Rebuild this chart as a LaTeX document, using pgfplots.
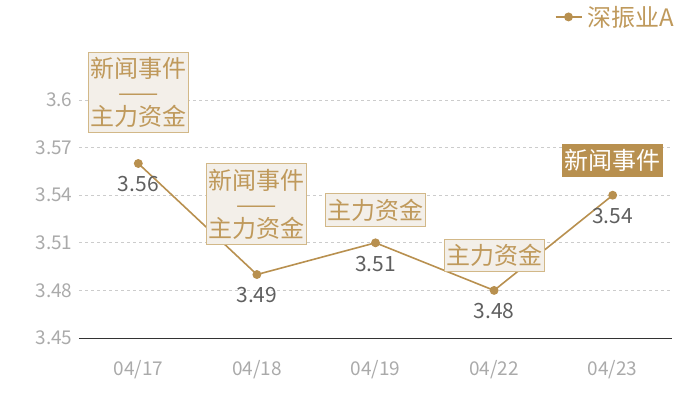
\documentclass[border=0pt]{standalone}
\usepackage{fontspec}
\setmainfont{Noto Sans CJK SC}
\usepackage{pgfplots}
\pgfplotsset{compat=1.18}

\definecolor{gold}{HTML}{B8904F}
\definecolor{goldtxt}{HTML}{BF995B}
\definecolor{boxfill}{HTML}{F3EFE9}
\definecolor{boxline}{HTML}{D2B888}
\definecolor{tickgray}{HTML}{AAAAAA}
\definecolor{valgray}{HTML}{5F5F5F}
\definecolor{gridgray}{HTML}{CCCCCC}

\begin{document}
\begin{tikzpicture}
\useasboundingbox (-79pt,-62pt) rectangle (621pt,338pt);
\begin{axis}[
  at={(0,0)}, anchor=south west,
  scale only axis,
  width=593pt, height=238pt,
  xmin=-0.5, xmax=4.5,
  ymin=3.45, ymax=3.6,
  xtick={0,1,2,3,4},
  xticklabels={04/17,04/18,04/19,04/22,04/23},
  ytick={3.45,3.48,3.51,3.54,3.57,3.6},
  yticklabels={3.45,3.48,3.51,3.54,3.57,3.6},
  major tick length=0pt,
  axis x line*=bottom,
  axis y line*=left,
  x axis line style={draw=black!80,-},
  y axis line style={draw=none},
  ymajorgrids=true,
  grid style={gridgray, dash pattern=on 3pt off 3pt, line width=0.8pt},
  ticklabel style={tickgray, font=\fontsize{19}{19}\selectfont},
  xticklabel style={yshift=-19pt},
  yticklabel style={xshift=-3pt},
  legend style={draw=none, fill=none, inner sep=0pt, at={(1.012,1.349)}, anchor=east,
    font=\fontsize{24}{24}\selectfont, text=goldtxt,
    nodes={inner xsep=5pt}},
  legend image code/.code={\draw[mark repeat=2,mark phase=2,#1] plot coordinates {(0pt,0pt) (13pt,0pt) (26pt,0pt)};},
  nodes near coords,
  nodes near coords align={below},
  every node near coord/.append style={valgray, font=\fontsize{21}{21}\selectfont, yshift=-9pt,
    /pgf/number format/fixed, /pgf/number format/precision=2, /pgf/number format/fixed zerofill,
    /pgf/number format/assume math mode=true},
  clip=false,
]
\addplot[gold, line width=1.6pt, mark=*, mark size=3.6pt, mark options={fill=gold, draw=gold}]
  coordinates {(0,3.56) (1,3.49) (2,3.51) (3,3.48) (4,3.54)};
\addlegendentry{深振业A}

\tikzset{ann/.style={draw=boxline, line width=1pt, fill=boxfill, text=goldtxt, align=center,
  inner xsep=2pt, inner ysep=5pt, anchor=south, font=\fontsize{24}{24}\selectfont}}
\node[ann, yshift=30pt] at (axis cs:0,3.56) {新闻事件\\——\\主力资金};
\node[ann, yshift=30pt] at (axis cs:1,3.49) {新闻事件\\——\\主力资金};
\node[ann, yshift=16pt] at (axis cs:2,3.51) {主力资金};
\node[ann, yshift=18pt] at (axis cs:3,3.48) {主力资金};
\node[ann, yshift=18pt, fill=gold, draw=gold, text=white] at (axis cs:4,3.54) {新闻事件};
\end{axis}
\end{tikzpicture}
\end{document}
